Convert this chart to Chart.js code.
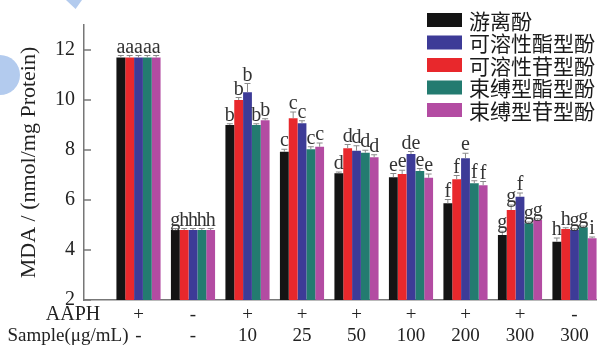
<!DOCTYPE html>
<html><head><meta charset="utf-8">
<script src="https://cdn.jsdelivr.net/npm/chart.js@4.4.1/dist/chart.umd.min.js"></script>
<style>
html,body{margin:0;padding:0;background:#fff;}
#wrap{position:relative;width:597px;height:345px;overflow:hidden;}
canvas{position:absolute;left:0;top:0;}
.deco{position:absolute;background:#b3cbee;}
</style></head><body>
<div id="wrap">
<div class="deco" style="left:-20px;top:55px;width:40px;height:40px;border-radius:50%;"></div>
<div class="deco" style="left:66px;top:0;width:16px;height:9px;clip-path:polygon(0 0,100% 0,60% 100%);"></div>
<canvas id="c" width="597" height="345"></canvas>
</div>
<script>
// ---- data ----
const groups = [1,2,3,4,5,6,7,8,9];
const aaph = ['+','-','+','+','+','+','+','+','-'];
const sample = ['-','-','10','25','50','100','200','300','300'];
const yTicks = [2,4,6,8,10,12];
const seriesNames = ['游离酚','可溶性苷型酚','可溶性酯型酚','束缚型酯型酚','束缚型苷型酚'];
const legendOrder = [0,2,1,3,4];

const freePhenol   = [11.7,4.8,9.0,7.93,7.07,6.91,5.87,4.6,4.33];
const solGlyco     = [11.7,4.8,10.0,9.27,8.07,7.04,6.83,5.6,4.84];
const solEster     = [11.7,4.8,10.31,9.07,7.97,7.84,7.67,6.13,4.8];
const bndEster     = [11.7,4.8,9.0,8.03,7.89,7.16,6.67,5.07,4.91];
const bndGlyco     = [11.7,4.8,9.19,8.13,7.71,6.89,6.59,5.2,4.47];

const errFree      = [0.08,0.06,0.05,0.1,0.05,0.15,0.15,0.15,0.15];
const errSolGlyco  = [0.08,0.06,0.1,0.25,0.15,0.15,0.15,0.2,0.05];
const errSolEster  = [0.08,0.06,0.35,0.1,0.2,0.1,0.2,0.15,0.05];
const errBndEster  = [0.08,0.06,0.05,0.1,0.1,0.1,0.1,0.05,0.05];
const errBndGlyco  = [0.08,0.06,0.06,0.15,0.1,0.15,0.15,0.05,0.05];

const letFree      = ['a','g','b','c','d','e','f','g','h'];
const letSolGlyco  = ['a','h','b','c','d','e','f','g','h'];
const letSolEster  = ['a','h','b','c','d','de','e','f','g'];
const letBndEster  = ['a','h','b','c','d','e','f','g','g'];
const letBndGlyco  = ['a','h','b','c','d','e','f','g','i'];

const values  = [freePhenol, solGlyco, solEster, bndEster, bndGlyco];
const errors  = [errFree, errSolGlyco, errSolEster, errBndEster, errBndGlyco];
const letters = [letFree, letSolGlyco, letSolEster, letBndEster, letBndGlyco];
const colors  = ['#141414','#e8282c','#3d3b97','#237b70','#b34ca2'];

const SERIF = "'Liberation Serif','Times New Roman',serif";

const datasets = values.map((arr, k) => ({
  label: seriesNames[k],
  data: arr.map((v, i) => ({x: groups[i], y: v})),
  backgroundColor: colors[k],
  borderWidth: 0,
  categoryPercentage: 0.81,
  barPercentage: 1.0,
  errs: errors[k],
  lets: letters[k]
}));

const annot = {
  id: 'annot',
  afterDatasetsDraw(chart) {
    const ctx = chart.ctx, ys = chart.scales.y;
    ctx.save();
    chart.data.datasets.forEach((ds, k) => {
      const meta = chart.getDatasetMeta(k);
      meta.data.forEach((bar, i) => {
        const v = ds.data[i].y, e = ds.errs[i];
        const top = ys.getPixelForValue(v + e);
        ctx.strokeStyle = '#8a8a8a';
        ctx.lineWidth = 1;
        ctx.beginPath();
        ctx.moveTo(bar.x, bar.y); ctx.lineTo(bar.x, top);
        ctx.moveTo(bar.x - 3, top); ctx.lineTo(bar.x + 3, top);
        ctx.stroke();
        ctx.fillStyle = '#333';
        ctx.font = '20px ' + SERIF;
        ctx.textAlign = 'center';
        ctx.textBaseline = 'alphabetic';
        ctx.fillText(ds.lets[i], bar.x, top - 3);
      });
    });
    ctx.restore();
  },
  afterDraw(chart) {
    const ctx = chart.ctx, ys = chart.scales.y, xs = chart.scales.x;
    ctx.save();
    ctx.strokeStyle = '#777'; ctx.lineWidth = 1.5;
    ys.ticks.forEach(t => {
      const y = ys.getPixelForValue(t.value);
      ctx.beginPath(); ctx.moveTo(xs.left, y); ctx.lineTo(xs.left + 7, y); ctx.stroke();
    });
    ctx.fillStyle = '#222';
    ctx.font = '20px ' + SERIF;
    ctx.textAlign = 'center'; ctx.textBaseline = 'middle';
    ctx.fillText('AAPH', 73, 315);
    ctx.font = '19px ' + SERIF;
    ctx.fillText('Sample(μg/mL)', 68, 336);
    legendOrder.forEach((k, r) => {
      const yc = 20 + r * 22.5;
      ctx.fillStyle = colors[k];
      ctx.fillRect(427, yc - 7, 35, 14);
      ctx.fillStyle = '#1a1a1a';
      ctx.font = "21px 'Noto Sans CJK SC'";
      ctx.textAlign = 'left'; ctx.textBaseline = 'middle';
      ctx.fillText(seriesNames[k], 469, yc + 1);
    });
    ctx.restore();
  }
};

new Chart(document.getElementById('c'), {
  type: 'bar',
  data: { datasets },
  options: {
    responsive: false,
    animation: false,
    layout: { padding: { left: 0, right: 0, top: 25, bottom: 0 } },
    plugins: { legend: { display: false }, tooltip: { enabled: false } },
    scales: {
      x: {
        type: 'linear',
        offset: false,
        min: 0, max: 9.413,
        grid: { display: false, drawTicks: false, offset: false },
        border: { display: true, color: '#777', width: 1.5 },
        afterBuildTicks: (s) => { s.ticks = groups.map(v => ({ value: v })); },
        afterFit: (s) => { s.height = 45; },
        ticks: {
          autoSkip: false, maxRotation: 0, padding: 4.5,
          color: '#222',
          font: { family: SERIF, size: 19, lineHeight: 1.1 },
          callback: (v, i) => [aaph[i], sample[i]]
        }
      },
      y: {
        min: 2, max: 13,
        grid: { display: false, drawTicks: false },
        border: { display: true, color: '#777', width: 1.5 },
        afterBuildTicks: (s) => { s.ticks = yTicks.map(v => ({ value: v })); },
        afterFit: (s) => { s.width = 84; },
        ticks: { autoSkip: false, padding: 9, color: '#222', font: { family: SERIF, size: 20 } },
        title: {
          display: true, text: 'MDA / (nmol/mg Protein)', color: '#222',
          font: { family: SERIF, size: 22 }, padding: { top: 16, bottom: 0 }
        }
      }
    }
  },
  plugins: [annot]
});
</script>
</body></html>
